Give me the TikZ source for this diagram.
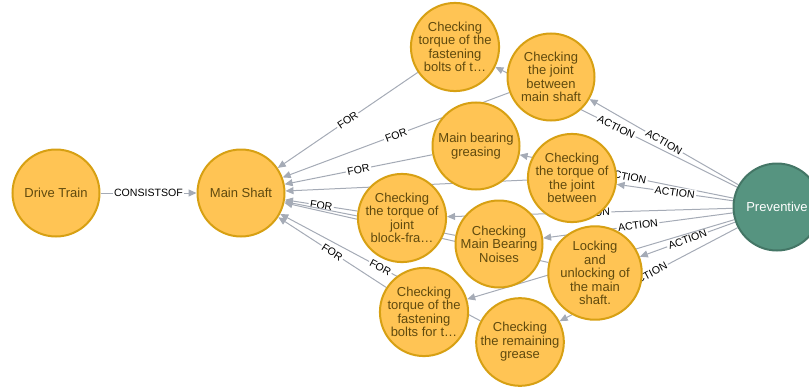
\documentclass[tikz,border=0pt]{standalone}
\usepackage{fontspec}
\setmainfont{Liberation Sans}
\usetikzlibrary{arrows.meta}
\definecolor{nyel}{HTML}{FFC454}
\definecolor{nyelb}{HTML}{D7A013}
\definecolor{nyelt}{HTML}{604A0E}
\definecolor{ngrn}{HTML}{569480}
\definecolor{ngrnb}{HTML}{447666}
\definecolor{edgec}{HTML}{A5ABB6}
\pgfdeclarelayer{bg}
\pgfsetlayers{bg,main}
\tikzset{
  ynode/.style={circle, fill=nyel, draw=nyelb, line width=2pt, minimum size=87pt, inner sep=0pt, align=center, text=nyelt, font=\fontsize{13}{13.4}\selectfont},
  gnode/.style={circle, fill=ngrn, draw=ngrnb, line width=2pt, minimum size=87pt, inner sep=0pt, align=center, text=white, font=\fontsize{13}{13.4}\selectfont},
  rel/.style={draw=edgec, line width=1pt, -{Triangle[length=8pt,width=7pt]}},
  rlab/.style={font=\fontsize{10.6}{11}\selectfont, fill=white, inner sep=1.5pt, sloped, text=black}
}
\begin{document}
\begin{tikzpicture}[x=1pt,y=-1pt]
\useasboundingbox (0,0) rectangle (809,388);
\node[ynode] (DT) at (56,193) {Drive Train};
\node[ynode] (MS) at (241,193) {Main Shaft};
\node[ynode] (T1) at (455,47) {Checking\\torque of the\\fastening\\bolts of t…};
\node[ynode] (J1) at (551,77) {Checking\\the joint\\between\\main shaft};
\node[ynode] (MBG) at (476,146) {Main bearing\\greasing};
\node[ynode] (TJ) at (572,178) {Checking\\the torque of\\the joint\\between};
\node[ynode] (BF) at (402,218) {Checking\\the torque of\\joint\\block-fra…};
\node[ynode] (NO) at (499,244) {Checking\\Main Bearing\\Noises};
\node[ynode] (LK) at (595,273) {Locking\\and\\unlocking of\\the main\\shaft.};
\node[ynode] (T2) at (424,312) {Checking\\torque of the\\fastening\\bolts for t…};
\node[ynode] (RG) at (520,342) {Checking\\the remaining\\grease};
\node[gnode] (PV) at (777,207) {Preventive};
\begin{pgfonlayer}{bg}
\draw[rel] (DT) -- node[rlab]{CONSISTSOF} (MS);
\foreach \n in {T1,J1,MBG,TJ,BF,NO,LK,T2,RG}{
  \draw[rel] (\n) -- node[rlab]{FOR} (MS);
  \draw[rel] (PV) -- node[rlab]{ACTION} (\n);
}
\end{pgfonlayer}
\end{tikzpicture}
\end{document}
